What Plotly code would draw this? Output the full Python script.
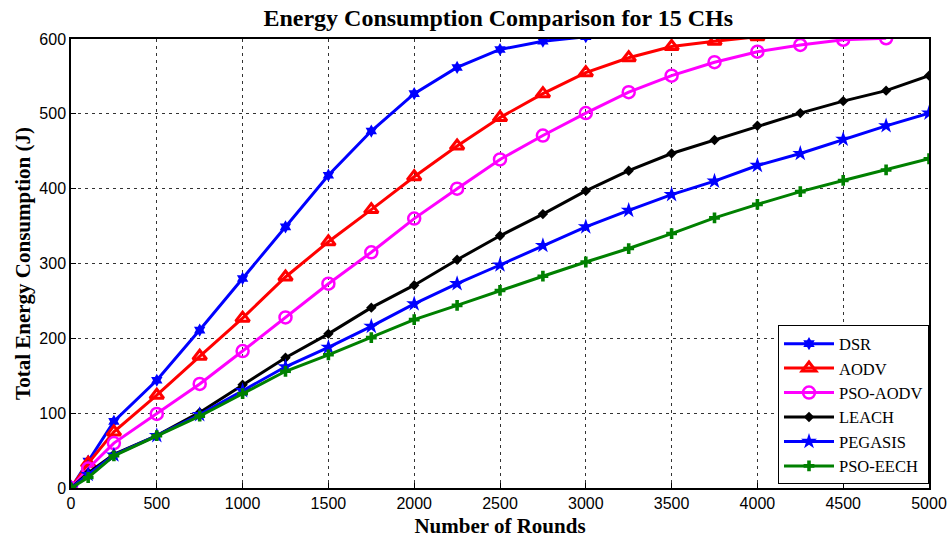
import plotly.graph_objects as go

rounds_short = [0, 100, 250, 500, 750, 1000, 1250, 1500, 1750, 2000, 2250, 2500, 2750, 3000]
rounds_mid = rounds_short + [3250, 3500, 3750, 4000]
rounds_pso = rounds_mid + [4250, 4500, 4750]
rounds_full = rounds_pso + [5000]

dsr = [0, 36, 89, 144, 211, 280, 349, 418, 477, 527, 562, 586, 597, 603]
aodv = [0, 33, 75, 124, 176, 227, 282, 329, 372, 416, 457, 495, 527, 555, 575, 590, 597, 603]
pso_aodv = [0, 26, 60, 99, 139, 183, 228, 273, 315, 360, 400, 439, 471, 501, 529, 551, 569, 583, 592, 599, 601]
leach = [0, 20, 45, 70, 101, 138, 174, 206, 241, 271, 305, 337, 366, 397, 424, 447, 465, 484, 501, 517, 531, 551]
pegasis = [0, 18, 44, 70, 98, 130, 162, 188, 216, 246, 273, 298, 324, 349, 371, 392, 410, 431, 447, 466, 484, 501]
pso_eech = [0, 14, 43, 70, 96, 126, 156, 178, 201, 225, 244, 264, 283, 302, 320, 340, 361, 379, 396, 411, 425, 440]

x_ticks = [0, 500, 1000, 1500, 2000, 2500, 3000, 3500, 4000, 4500, 5000]
y_ticks = [0, 100, 200, 300, 400, 500, 600]

series = [
    ("DSR", rounds_short, dsr, "#0000FF", dict(symbol="hexagram", size=10)),
    ("AODV", rounds_mid, aodv, "#FF0000", dict(symbol="triangle-up-open", size=12, line=dict(width=3, color="#FF0000"))),
    ("PSO-AODV", rounds_pso, pso_aodv, "#FF00FF", dict(symbol="circle-open", size=12, line=dict(width=2.5, color="#FF00FF"))),
    ("LEACH", rounds_full, leach, "#000000", dict(symbol="diamond", size=8)),
    ("PEGASIS", rounds_full, pegasis, "#0000FF", dict(symbol="star", size=12)),
    ("PSO-EECH", rounds_full, pso_eech, "#008000", dict(symbol="cross", size=9)),
]

fig = go.Figure()
for name, xs, ys, col, mk in series:
    fig.add_trace(go.Scatter(x=xs, y=ys, name=name, mode="lines+markers",
                             line=dict(color=col, width=3),
                             marker=dict(color=col, **mk)))

axis_common = dict(showline=True, linecolor="black", linewidth=1.5, mirror=True,
                   ticks="inside", ticklen=5, tickcolor="black",
                   showgrid=True, gridcolor="#333333", griddash="3px,4px", gridwidth=1,
                   zeroline=False, automargin=False,
                   tickfont=dict(family="Liberation Sans", size=16, color="black"))

fig.update_layout(
    width=949, height=538,
    margin=dict(l=71, r=20, t=39, b=50),
    paper_bgcolor="white", plot_bgcolor="white",
    title=dict(text="<b>Energy Consumption Comparison for 15 CHs</b>", x=0.525, xanchor="center",
               y=0.967, yanchor="middle",
               font=dict(family="Liberation Serif", size=24, color="black")),
    xaxis=dict(range=[0, 5000], tickvals=x_ticks, **axis_common,
               title=dict(text="<b>Number of Rounds</b>", standoff=8,
                          font=dict(family="Liberation Serif", size=21, color="black"))),
    yaxis=dict(range=[0, 600], tickvals=y_ticks, **axis_common,
               title=dict(text="<b>Total Energy Consumption (J)</b>", standoff=3,
                          font=dict(family="Liberation Serif", size=21, color="black"))),
    legend=dict(x=1, y=0.008, xanchor="right", yanchor="bottom",
                bgcolor="white", bordercolor="black", borderwidth=1,
                font=dict(family="Liberation Serif", size=16.5, color="black"),
                tracegroupgap=0, itemwidth=50),
    showlegend=True,
)

fig.write_html("out.html", config={"displayModeBar": False},
               post_script="document.body.style.margin='0';")
